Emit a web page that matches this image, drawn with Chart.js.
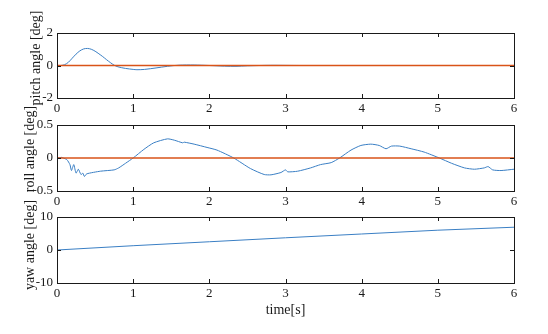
<!DOCTYPE html>
<html>
<head>
<meta charset="utf-8">
<script src="https://cdn.jsdelivr.net/npm/chart.js@4.4.1/dist/chart.umd.min.js"></script>
<style>
    html, body { margin: 0; padding: 0; background: #fff; }
    #wrap { position: relative; width: 548px; height: 334px; }
    canvas { position: absolute; left: 0; }
</style>
</head>
<body>
<div id="wrap">
    <canvas id="pitchChart"></canvas>
    <canvas id="rollChart"></canvas>
    <canvas id="yawChart"></canvas>
</div>
<script>
(function () {
    "use strict";

    // time axis ticks
    const timeTicks = [0, 1, 2, 3, 4, 5, 6];

    // pitch angle [deg]
    const pitchTime = [0, 0.05, 0.1, 0.15, 0.2, 0.25, 0.3, 0.35, 0.4, 0.45, 0.5, 0.55, 0.6, 0.65, 0.7, 0.75, 0.8, 0.9, 1.0, 1.05, 1.15, 1.3, 1.45, 1.6, 1.8, 2.0, 2.2, 2.35, 2.5, 2.8, 3.2, 4, 5, 6];
    const pitchValues = [0, 0, 0.05, 0.2, 0.45, 0.7, 0.9, 1.02, 1.05, 1.0, 0.88, 0.72, 0.55, 0.36, 0.18, 0.02, -0.08, -0.18, -0.24, -0.26, -0.24, -0.15, -0.05, 0.02, 0.03, 0, -0.04, -0.05, -0.02, 0.01, 0, 0, 0, 0];
    const pitchRef = 0;
    const pitchTicks = [-2, 0, 2];

    // roll angle [deg]
    const rollTime = [0, 0.066, 0.083, 0.13, 0.17, 0.19, 0.22, 0.25, 0.28, 0.315, 0.34, 0.36, 0.39, 0.57, 0.75, 0.81, 0.9, 1.0, 1.14, 1.27, 1.45, 1.54, 1.65, 1.67, 1.8, 1.97, 2.1, 2.32, 2.54, 2.72, 2.81, 2.94, 3.0, 3.03, 3.16, 3.33, 3.46, 3.6, 3.71, 3.86, 3.99, 4.12, 4.23, 4.32, 4.39, 4.5, 4.65, 4.82, 5.02, 5.18, 5.35, 5.48, 5.61, 5.66, 5.72, 5.83, 6.0];
    const rollValues = [0, 0.01, 0, -0.025, -0.1, -0.19, -0.1, -0.23, -0.17, -0.25, -0.23, -0.28, -0.24, -0.2, -0.18, -0.15, -0.08, 0, 0.13, 0.23, 0.29, 0.27, 0.23, 0.24, 0.21, 0.16, 0.12, 0, -0.16, -0.25, -0.255, -0.22, -0.18, -0.21, -0.2, -0.15, -0.1, -0.07, 0, 0.12, 0.19, 0.21, 0.19, 0.14, 0.18, 0.18, 0.14, 0.09, 0, -0.08, -0.15, -0.17, -0.15, -0.13, -0.18, -0.19, -0.17];
    const rollRef = 0;
    const rollTicks = [-0.5, 0, 0.5];

    // yaw angle [deg]
    const yawTime = [0, 1, 2, 3, 4, 5, 6];
    const yawValues = [0, 1.3, 2.5, 3.7, 4.85, 6.0, 6.9];
    const yawRef = 10;
    const yawTicks = [-10, 0, 10];

    const blue = "#3a7fc4";
    const orange = "#d95319";
    const inkColor = "#1a1a1a";
    const serif = "'Liberation Serif', 'Times New Roman', serif";

    const plotLeft = 57;
    const plotRight = 514;
    const canvasWidth = 548;

    // frame with inward ticks plus axis titles, positioned from the chart area
    const boxTicksPlugin = {
        id: "boxTicks",
        afterDraw(chart, args, opts) {
            const { ctx, chartArea, scales } = chart;
            const len = 4;
            ctx.save();
            ctx.strokeStyle = inkColor;
            ctx.lineWidth = 1;
            ctx.strokeRect(Math.round(chartArea.left) + 0.5, Math.round(chartArea.top) + 0.5,
                Math.round(chartArea.right - chartArea.left), Math.round(chartArea.bottom - chartArea.top));
            ctx.beginPath();
            scales.x.ticks.forEach((t) => {
                const px = Math.round(scales.x.getPixelForValue(t.value)) + 0.5;
                ctx.moveTo(px, chartArea.bottom);
                ctx.lineTo(px, chartArea.bottom - len);
                ctx.moveTo(px, chartArea.top);
                ctx.lineTo(px, chartArea.top + len);
            });
            scales.y.ticks.forEach((t) => {
                const py = Math.round(scales.y.getPixelForValue(t.value)) + 0.5;
                ctx.moveTo(chartArea.left, py);
                ctx.lineTo(chartArea.left + len, py);
                ctx.moveTo(chartArea.right, py);
                ctx.lineTo(chartArea.right - len, py);
            });
            ctx.stroke();

            ctx.fillStyle = inkColor;
            ctx.font = "14px " + serif;
            ctx.textAlign = "center";
            ctx.textBaseline = "middle";
            const midY = (chartArea.top + chartArea.bottom) / 2 + opts.yTitleShift;
            ctx.translate(opts.yTitleX, midY);
            ctx.rotate(-Math.PI / 2);
            ctx.fillText(opts.yTitle, 0, 0);
            ctx.setTransform(1, 0, 0, 1, 0, 0);
            if (opts.xTitle) {
                ctx.fillText(opts.xTitle, (chartArea.left + chartArea.right) / 2, chartArea.bottom + opts.xTitleGap);
            }
            ctx.restore();
        }
    };

    function makePanel(cfg) {
        const canvas = document.getElementById(cfg.id);
        canvas.style.top = cfg.top + "px";
        canvas.width = canvasWidth;
        canvas.height = cfg.height;
        canvas.style.width = canvasWidth + "px";
        canvas.style.height = cfg.height + "px";

        const series = cfg.time.map((t, i) => ({ x: t, y: cfg.values[i] }));
        const ref = [{ x: 0, y: cfg.ref }, { x: 6, y: cfg.ref }];

        return new Chart(canvas, {
            type: "line",
            data: {
                datasets: [
                    { data: ref, borderColor: orange, borderWidth: 1.5, pointRadius: 0, tension: 0 },
                    { data: series, borderColor: blue, borderWidth: 1, pointRadius: 0, tension: cfg.tension }
                ]
            },
            plugins: [boxTicksPlugin],
            options: {
                responsive: false,
                animation: false,
                devicePixelRatio: 1,
                layout: { padding: { left: 0, right: canvasWidth - plotRight, top: cfg.padTop, bottom: 0 } },
                plugins: {
                    legend: { display: false },
                    tooltip: { enabled: false },
                    boxTicks: { yTitle: cfg.yTitle, yTitleX: cfg.yTitleX, yTitleShift: cfg.yTitleShift, xTitle: cfg.xTitle, xTitleGap: 27 }
                },
                scales: {
                    x: {
                        type: "linear",
                        min: 0,
                        max: 6,
                        afterBuildTicks: (axis) => { axis.ticks = timeTicks.map((v) => ({ value: v })); },
                        afterFit: (axis) => { axis.height = cfg.xHeight; },
                        grid: { display: false, drawTicks: false },
                        border: { display: false },
                        ticks: { color: inkColor, font: { family: serif, size: 13 }, padding: 3, maxRotation: 0 }
                    },
                    y: {
                        min: cfg.ticks[0],
                        max: cfg.ticks[cfg.ticks.length - 1],
                        afterBuildTicks: (axis) => { axis.ticks = cfg.ticks.map((v) => ({ value: v })); },
                        afterFit: (axis) => { axis.width = plotLeft; },
                        grid: { display: false, drawTicks: false },
                        border: { display: false },
                        ticks: { color: inkColor, font: { family: serif, size: 13 }, padding: 4 }
                    }
                }
            }
        });
    }

    makePanel({ id: "pitchChart", top: 0, height: 116, padTop: 33, xHeight: 18, time: pitchTime, values: pitchValues, ref: pitchRef, ticks: pitchTicks, yTitle: "pitch angle [deg]", yTitleX: 36.7, yTitleShift: -7.5, tension: 0.3 });
    makePanel({ id: "rollChart", top: 100, height: 108, padTop: 25, xHeight: 17, time: rollTime, values: rollValues, ref: rollRef, ticks: rollTicks, yTitle: "roll angle [deg]", yTitleX: 30, yTitleShift: -9, tension: 0.2 });
    makePanel({ id: "yawChart", top: 192, height: 142, padTop: 25, xHeight: 51, time: yawTime, values: yawValues, ref: yawRef, ticks: yawTicks, yTitle: "yaw angle [deg]", yTitleX: 30.5, yTitleShift: -5, tension: 0, xTitle: "time[s]" });
}());
</script>
</body>
</html>
